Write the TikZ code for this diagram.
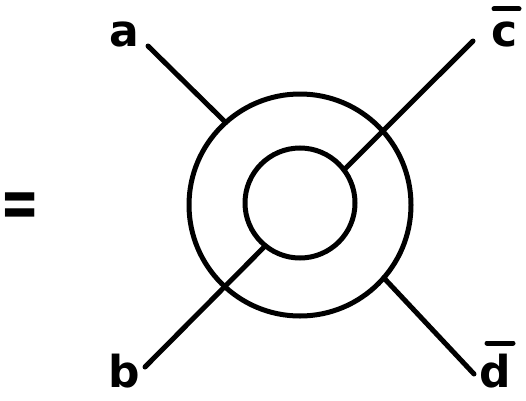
\documentclass[tikz,border=0pt]{standalone}
\usepackage{fontspec}
\setmainfont{DejaVu Sans}
\begin{document}
\begin{tikzpicture}[x=1pt,y=1pt,
  ring/.style={circle,draw,line width=5pt,inner sep=0pt,outer sep=0pt},
  leg/.style={line width=5pt,line cap=round},
  lab/.style={font=\fontsize{44}{44}\selectfont\bfseries,inner sep=0pt,anchor=base,text depth=0pt},
  barline/.style={line width=5pt,line cap=round}]
\useasboundingbox (0,0) rectangle (526,400);
\node[ring,minimum size=222pt] (O) at (300,195) {};
\node[ring,minimum size=110pt] (I) at (300,197) {};
\coordinate (ea) at (148,354);
\coordinate (eb) at (145,33);
\coordinate (ec) at (473,359);
\coordinate (ed) at (474,26);
\draw[leg] (ea) -- (O.132);
\draw[leg] (eb) -- (I.231);
\draw[leg] (ec) -- (I.37);
\draw[leg] (ed) -- (O.-41);
\node[lab] (a) at (124,354) {a};
\node[lab] (b) at (124,13) {b};
\node[lab] (c) at (505,354) {c};
\node[lab] (d) at (495,13) {d};
\coordinate (c1) at (494,391);
\coordinate (c2) at (519,391);
\coordinate (d1) at (487,57);
\coordinate (d2) at (513,57);
\draw[barline] (c1) -- (c2);
\draw[barline] (d1) -- (d2);
\node[font=\fontsize{72}{72}\selectfont\bfseries,inner sep=0pt] (eq) at (20.5,190) {\scalebox{0.65}[1]{=}};
\end{tikzpicture}
\end{document}
